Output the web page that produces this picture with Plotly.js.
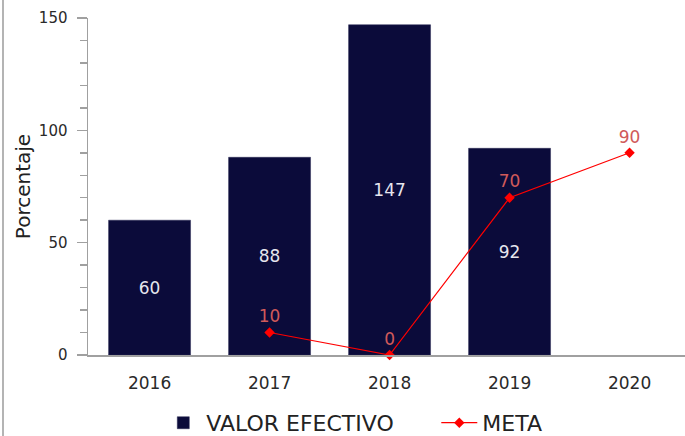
<!DOCTYPE html>
<html>
<head>
<meta charset="utf-8">
<script src="https://cdn.plot.ly/plotly-3.0.1.min.js"></script>
<style>
html,body{margin:0;padding:0;background:#fff;}
#wrap{position:relative;width:685px;height:436px;overflow:hidden;}
#edge{position:absolute;left:2px;top:0;width:2px;height:436px;background:#b4b4b4;z-index:5;}
#chart{width:685px;height:436px;}
</style>
</head>
<body>
<div id="wrap"><div id="edge"></div><div id="chart"></div></div>
<script>
const years = ['2016', '2017', '2018', '2019', '2020'];
const valorEfectivo = [60, 88, 147, 92, null];
const meta = [null, 10, 0, 70, 90];
const seriesNames = ['VALOR EFECTIVO', 'META'];
const yTitle = 'Porcentaje';

const font = 'DejaVu Sans, Verdana, sans-serif';

const traces = [
  {
    type: 'bar',
    name: seriesNames[0],
    x: years,
    y: valorEfectivo,
    width: 0.683,
    marker: {color: '#0b0b3a', line: {color: '#2a2a55', width: 0.5}},
    text: valorEfectivo.map(v => v === null ? '' : String(v)),
    textposition: 'inside',
    insidetextanchor: 'middle',
    textangle: 0,
    textfont: {family: font, size: 17, color: '#e6e6ee'},
    cliponaxis: false,
    hoverinfo: 'x+y'
  },
  {
    type: 'scatter',
    mode: 'lines+markers+text',
    name: seriesNames[1],
    x: years,
    y: meta,
    connectgaps: false,
    line: {color: '#ff0000', width: 1.2},
    marker: {symbol: 'diamond', size: 8, color: '#ff0000'},
    text: meta.map(v => v === null ? '' : String(v)),
    textposition: 'top center',
    textfont: {family: font, size: 17, color: '#d05a5a'},
    cliponaxis: false
  }
];

const layout = {
  width: 685,
  height: 436,
  margin: {l: 88, r: 0, t: 18, b: 81},
  paper_bgcolor: '#ffffff',
  plot_bgcolor: '#ffffff',
  font: {family: font, color: '#333333'},
  showlegend: true,
  legend: {
    orientation: 'h',
    xref: 'container', yref: 'container',
    x: 0.234, xanchor: 'left',
    y: 0.03, yanchor: 'middle',
    font: {family: font, size: 22, color: '#222222'},
    itemwidth: 36,
    entrywidth: 225,
    traceorder: 'normal'
  },
  xaxis: {
    type: 'category',
    range: [-0.513, 4.462],
    showline: true,
    linecolor: '#a0a0a0',
    linewidth: 2,
    ticks: '',
    showgrid: false,
    zeroline: false,
    tickfont: {family: font, size: 17, color: '#2a2a2a'},
    ticklabelstandoff: 12
  },
  yaxis: {
    range: [0, 150],
    tickvals: [0, 50, 100, 150],
    ticks: 'outside',
    ticklen: 10,
    tickwidth: 1.5,
    tickcolor: '#a0a0a0',
    showline: true,
    linecolor: '#a0a0a0',
    linewidth: 1.5,
    showgrid: false,
    zeroline: false,
    tickfont: {family: font, size: 15, color: '#2a2a2a'},
    ticklabelstandoff: 6,
    minor: {dtick: 10, ticks: 'outside', ticklen: 7, tickwidth: 1.5, tickcolor: '#a0a0a0', showgrid: false},
    title: {text: yTitle, font: {family: font, size: 20, color: '#222222'}, standoff: 3}
  }
};

Plotly.newPlot('chart', traces, layout, {displayModeBar: false, staticPlot: true});
</script>
</body>
</html>
